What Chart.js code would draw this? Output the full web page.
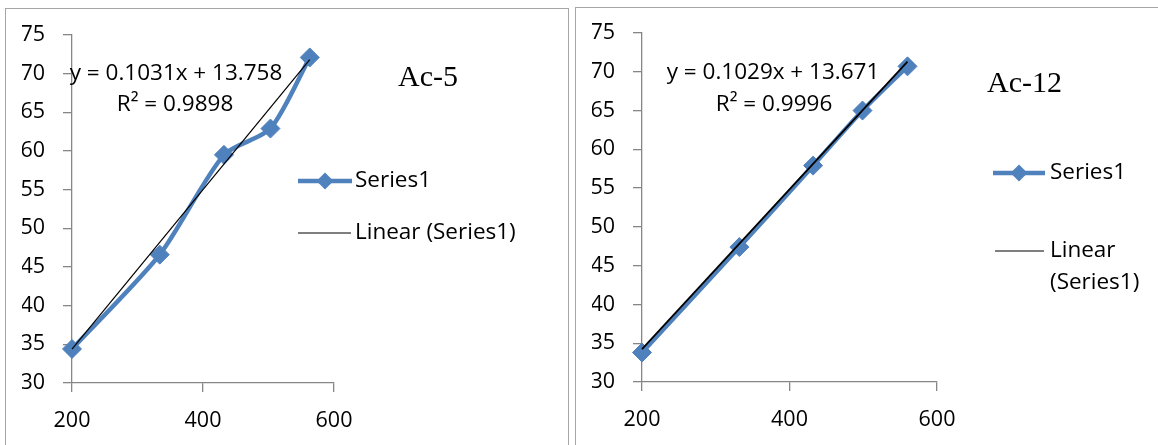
<!DOCTYPE html>
<html>
<head>
<meta charset="utf-8">
<script src="https://cdn.jsdelivr.net/npm/chart.js@4/dist/chart.umd.min.js"></script>
<style>
  html, body { margin: 0; padding: 0; background: #fff; }
  body { width: 1158px; height: 445px; position: relative; overflow: hidden; }
  .panel { position: absolute; border: 1px solid #a6a6a6; box-sizing: border-box; }
  #panelA { left: 5px; top: 8px; width: 564px; height: 470px; }
  #panelB { left: 575px; top: 7px; width: 620px; height: 470px; }
  canvas { position: absolute; left: 0; top: 0; }
</style>
</head>
<body>
<div class="panel" id="panelA"></div>
<div class="panel" id="panelB"></div>
<canvas id="chartA" width="1158" height="445"></canvas>
<canvas id="chartB" width="1158" height="445"></canvas>
<script>
// Ac-5 measurements
const ac5X = [200, 334, 432, 503, 563];
const ac5Y = [34.4, 46.6, 59.5, 62.9, 72.1];
const ac5Fit = [0.1031, 13.758];   // slope, intercept
const ac5R2 = 0.9898;

// Ac-12 measurements
const ac12X = [200, 332, 432, 499, 560];
const ac12Y = [33.8, 47.4, 57.9, 65.0, 70.7];
const ac12Fit = [0.1029, 13.671];
const ac12R2 = 0.9996;

// Axis ticks
const yTicks = [30, 35, 40, 45, 50, 55, 60, 65, 70, 75];
const xTicks = [200, 400, 600];

const seriesName = 'Series1';
const trendName = 'Linear (Series1)';

const BLUE = '#4F81BD';
const AXIS = '#868686';
const FONT = '"Open Sans", Lato, sans-serif';
const TEXT_PX = 22.5;
const TICK_PX = 21.5;

function points(xs, ys) { return xs.map((x, i) => ({ x, y: ys[i] })); }
function trendPoints(xs, fit) {
  const lo = Math.min(...xs), hi = Math.max(...xs);
  return [lo, hi].map(x => ({ x, y: fit[0] * x + fit[1] }));
}

// Draws the fitted equation, panel title and the legend block
const panelNotes = {
  id: 'panelNotes',
  afterDraw(chart, args, o) {
    const ctx = chart.ctx;
    ctx.save();
    ctx.fillStyle = '#000';
    ctx.textBaseline = 'middle';
    ctx.font = TEXT_PX + 'px ' + FONT;
    ctx.textAlign = 'center';
    o.eq.forEach(([t, x, y]) => ctx.fillText(t, x, y));

    ctx.font = '30px "Liberation Serif", "Times New Roman", serif';
    ctx.textAlign = 'left';
    ctx.fillText(o.title[0], o.title[1], o.title[2]);

    // legend: series line with diamond marker
    const s = o.legSeries;
    ctx.strokeStyle = BLUE;
    ctx.lineWidth = 4.5;
    ctx.beginPath();
    ctx.moveTo(s.x0, s.y); ctx.lineTo(s.x1, s.y);
    ctx.stroke();
    const cx = (s.x0 + s.x1) / 2, r = 8.5;
    ctx.fillStyle = BLUE;
    ctx.beginPath();
    ctx.moveTo(cx - r, s.y); ctx.lineTo(cx, s.y - r);
    ctx.lineTo(cx + r, s.y); ctx.lineTo(cx, s.y + r);
    ctx.closePath(); ctx.fill();

    // legend: trend line
    const t = o.legTrend;
    ctx.strokeStyle = '#000';
    ctx.lineWidth = 1.2;
    ctx.beginPath();
    ctx.moveTo(t.x0, t.y); ctx.lineTo(t.x1, t.y);
    ctx.stroke();

    ctx.fillStyle = '#000';
    ctx.font = TEXT_PX + 'px ' + FONT;
    ctx.textAlign = 'left';
    ctx.fillText(seriesName, s.tx, s.y);
    t.lines.forEach((ln, i) => ctx.fillText(ln, t.tx, t.y + i * t.lh));
    ctx.restore();
  }
};

function makeChart(id, xs, ys, fit, trendWidth, area, notes) {
  const W = 1158, H = 445, axisW = 50, axisH = 50;
  return new Chart(document.getElementById(id), {
    type: 'scatter',
    data: {
      datasets: [
        {
          label: trendName,
          data: trendPoints(xs, fit),
          showLine: true,
          borderColor: '#000',
          borderWidth: trendWidth,
          pointRadius: 0,
          order: 0,
          clip: false
        },
        {
          label: seriesName,
          data: points(xs, ys),
          showLine: true,
          borderColor: BLUE,
          backgroundColor: BLUE,
          borderWidth: 4.5,
          tension: 0.25,
          pointStyle: 'rectRot',
          pointRadius: 9.5,
          pointBorderWidth: 1,
          pointBorderColor: BLUE,
          pointBackgroundColor: BLUE,
          order: 1,
          clip: false
        }
      ]
    },
    options: {
      responsive: false,
      animation: false,
      events: [],
      layout: {
        padding: {
          left: area.left - axisW,
          top: area.top,
          right: W - area.right,
          bottom: H - area.bottom - axisH
        }
      },
      scales: {
        x: {
          type: 'linear',
          min: xTicks[0], max: xTicks[xTicks.length - 1],
          afterBuildTicks: s => { s.ticks = xTicks.map(v => ({ value: v })); },
          afterFit: s => { s.height = axisH; },
          grid: { drawOnChartArea: false, drawTicks: true, tickLength: 9, color: AXIS, lineWidth: 1.3 },
          border: { display: true, color: AXIS, width: 1.3 },
          ticks: { color: '#000', font: { family: FONT, size: TICK_PX }, padding: 16, maxRotation: 0 }
        },
        y: {
          type: 'linear',
          min: yTicks[0], max: yTicks[yTicks.length - 1],
          afterBuildTicks: s => { s.ticks = yTicks.map(v => ({ value: v })); },
          afterFit: s => { s.width = axisW; },
          grid: { drawOnChartArea: false, drawTicks: true, tickLength: 9, color: AXIS, lineWidth: 1.3 },
          border: { display: true, color: AXIS, width: 1.3 },
          ticks: { color: '#000', font: { family: FONT, size: TICK_PX }, padding: 18 }
        }
      },
      plugins: {
        legend: { display: false },
        tooltip: { enabled: false },
        panelNotes: notes
      }
    },
    plugins: [panelNotes]
  });
}

function eqText(fit) { return 'y = ' + fit[0] + 'x + ' + fit[1]; }
function r2Text(r2) { return 'R\u00B2 = ' + r2.toFixed(4); }

function build() {
  makeChart('chartA', ac5X, ac5Y, ac5Fit, 1.2,
    { left: 72, right: 334, top: 35, bottom: 383 },
    {
      eq: [[eqText(ac5Fit), 176, 74], [r2Text(ac5R2), 175, 105]],
      title: ['Ac-5', 398, 78],
      legSeries: { x0: 298, x1: 352, y: 181, tx: 355 },
      legTrend: { x0: 298, x1: 351, y: 233, tx: 355, lh: 32, lines: [trendName] }
    });
  makeChart('chartB', ac12X, ac12Y, ac12Fit, 1.8,
    { left: 642, right: 937, top: 33, bottom: 382 },
    {
      eq: [[eqText(ac12Fit), 773, 73], [r2Text(ac12R2), 774, 105]],
      title: ['Ac-12', 987, 84],
      legSeries: { x0: 993, x1: 1045, y: 173, tx: 1050 },
      legTrend: { x0: 995, x1: 1044, y: 251, tx: 1050, lh: 32, lines: ['Linear', '(Series1)'] }
    });
}

if (document.fonts && document.fonts.load) {
  Promise.all([
    document.fonts.load('22px "Open Sans"'),
    document.fonts.load('30px "Liberation Serif"')
  ]).then(build, build);
} else {
  build();
}
</script>
</body>
</html>
